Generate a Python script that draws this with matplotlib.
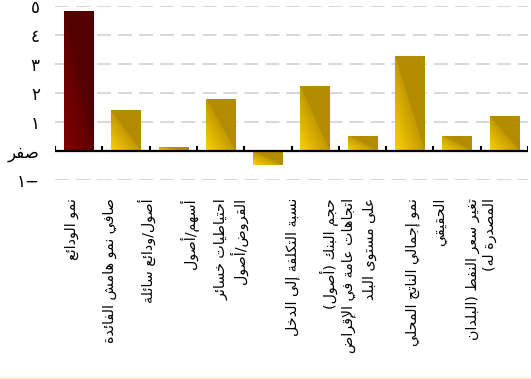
"""Bar chart of bank-level drivers (Arabic labels), redrawn with matplotlib."""
import numpy as np
import matplotlib

matplotlib.use("Agg")
import matplotlib.pyplot as plt  # noqa: E402
from matplotlib.colors import LinearSegmentedColormap  # noqa: E402
from matplotlib.lines import Line2D  # noqa: E402
from matplotlib.transforms import blended_transform_factory  # noqa: E402

# --- data -------------------------------------------------------------------
# Category labels (logical Arabic order), one list of lines per bar.
labels = [
    ["نمو الودائع"],
    ["صافي نمو هامش الفائدة"],
    ["أصول/ودائع سائلة"],
    ["أسهم/أصول"],
    ["احتياطيات خسائر", "القروض/أصول"],
    ["نسبة التكلفة إلى الدخل"],
    ["حجم البنك (أصول)"],
    ["اتجاهات عامة في الإقراض", "على مستوى البلد"],
    ["نمو إجمالي الناتج المحلي", "الحقيقي"],
    ["تغير سعر النفط (البلدان", "المصدرة له)"],
]
values = [4.82, 1.41, 0.15, 1.79, -0.48, 2.24, 0.52, 3.27, 0.52, 1.2]
y_ticks = [-1, 0, 1, 2, 3, 4, 5]
y_ticklabels = ["١−", "صفر", "١", "٢", "٣", "٤", "٥"]

# where each label line sits, relative to its bar (data units) -- the source
# chart drifts its rotated labels to the left, so this is layout, not data
label_line_dx = [
    [-0.14], [-0.33], [-0.55], [-0.68], [-0.98, -0.62],
    [-0.48], [-0.72], [-1.29, -0.85], [-0.93, -0.36], [-0.67, -0.31],
]

# --- minimal Arabic shaping (matplotlib has no bidi / joining) ---------------
_DUAL = {
    "ئ": 0xFE89, "ب": 0xFE8F, "ت": 0xFE95, "ج": 0xFE9D, "ح": 0xFEA1,
    "خ": 0xFEA5, "س": 0xFEB1, "ش": 0xFEB5, "ص": 0xFEB9, "ض": 0xFEBD,
    "ط": 0xFEC1, "ع": 0xFEC9, "غ": 0xFECD, "ف": 0xFED1, "ق": 0xFED5,
    "ك": 0xFED9, "ل": 0xFEDD, "م": 0xFEE1, "ن": 0xFEE5, "ه": 0xFEE9,
    "ي": 0xFEF1,
}
_RIGHT = {
    "ا": 0xFE8D, "أ": 0xFE83, "إ": 0xFE87, "ة": 0xFE93, "د": 0xFEA9,
    "ر": 0xFEAD, "و": 0xFEED, "ى": 0xFEEF,
}
_LAM_ALEF = {"ا": 0xFEFB, "أ": 0xFEF7, "إ": 0xFEF9, "آ": 0xFEF5}


def shape(text):
    """Contextual forms + visual (reversed) order for one line of Arabic."""
    out = []
    i = 0
    while i < len(text):
        ch = text[i]
        prev = text[i - 1] if i > 0 else ""
        nxt = text[i + 1] if i + 1 < len(text) else ""
        link_prev = prev in _DUAL
        if ch == "ل" and nxt in _LAM_ALEF:
            out.append(chr(_LAM_ALEF[nxt] + (1 if link_prev else 0)))
            i += 2
            continue
        if ch in _DUAL:
            link_next = nxt in _DUAL or nxt in _RIGHT
            base = _DUAL[ch]
            if link_prev and link_next:
                out.append(chr(base + 3))
            elif link_prev:
                out.append(chr(base + 1))
            elif link_next:
                out.append(chr(base + 2))
            else:
                out.append(chr(base))
        elif ch in _RIGHT:
            out.append(chr(_RIGHT[ch] + (1 if link_prev else 0)))
        else:
            out.append(ch)
        i += 1
    return "".join(reversed(out)).translate(str.maketrans("()", ")("))


# --- figure -------------------------------------------------------------------
plt.rcParams["font.family"] = ["DejaVu Sans"]

fig = plt.figure(figsize=(5.31, 3.79), dpi=100)
ax = fig.add_axes([55 / 531, 199 / 379, 473 / 531, 174.4 / 379])

x = np.arange(len(values))
bars = ax.bar(x, values, width=0.62, color="none", zorder=2)

gold = LinearSegmentedColormap.from_list("gold", ["#FAD000", "#D8AE00", "#B48C00"])
maroon = LinearSegmentedColormap.from_list("maroon", ["#7E0000", "#6C0000", "#540000"])

# diagonal fill: bright at lower-left, saturating at the TL-BR diagonal
u, v = np.meshgrid(np.linspace(0, 1, 80), np.linspace(0, 1, 80))
grad = np.where(u + v < 1, (u + v) * 0.8, 1.0)

for i, b in enumerate(bars):
    x0, y0 = b.get_x(), b.get_y()
    x1, y1 = x0 + b.get_width(), y0 + b.get_height()
    lo, hi = min(y0, y1), max(y0, y1)
    im = ax.imshow(grad, cmap=maroon if i == 0 else gold, origin="lower",
                   extent=(x0, x1, lo, hi), aspect="auto", zorder=2,
                   interpolation="bilinear", vmin=0, vmax=1)
    im.set_clip_path(b)

ax.set_xlim(-0.5, len(values) - 0.5)
ax.set_ylim(-1, 5)

# gridlines, zero axis, and the small boundary ticks on it
ax.set_yticks(y_ticks)
ax.set_yticklabels([shape(t) if t == "صفر" else t for t in y_ticklabels],
                   fontsize=12)
ax.tick_params(axis="y", length=0, pad=11)
ax.yaxis.grid(True, color="#D9D9D9", lw=1.5, linestyle=(0, (6.7, 3.4)))
ax.set_axisbelow(True)
ax.set_xticks([])
for s in ax.spines.values():
    s.set_visible(False)

ax.axhline(0, color="black", lw=1.6, zorder=3)
edges = np.arange(len(values) + 1) - 0.5
ax.vlines(edges, 0, 0.17, color="black", lw=1.5, zorder=3)

# rotated category labels (read top-to-bottom)
trans = blended_transform_factory(ax.transData, fig.transFigure)
for i, (lines, dxs) in enumerate(zip(labels, label_line_dx)):
    for line, dx in zip(lines, dxs):
        ax.text(i + dx, 181 / 379, shape(line), transform=trans, rotation=90,
                ha="center", va="top", fontsize=10.3, clip_on=False)

# thin pale-yellow rule along the bottom edge
fig.add_artist(Line2D([0, 1], [1.3 / 379, 1.3 / 379], transform=fig.transFigure,
                      color="#FBE6B0", lw=1))

fig.savefig("out.png", dpi=100)
